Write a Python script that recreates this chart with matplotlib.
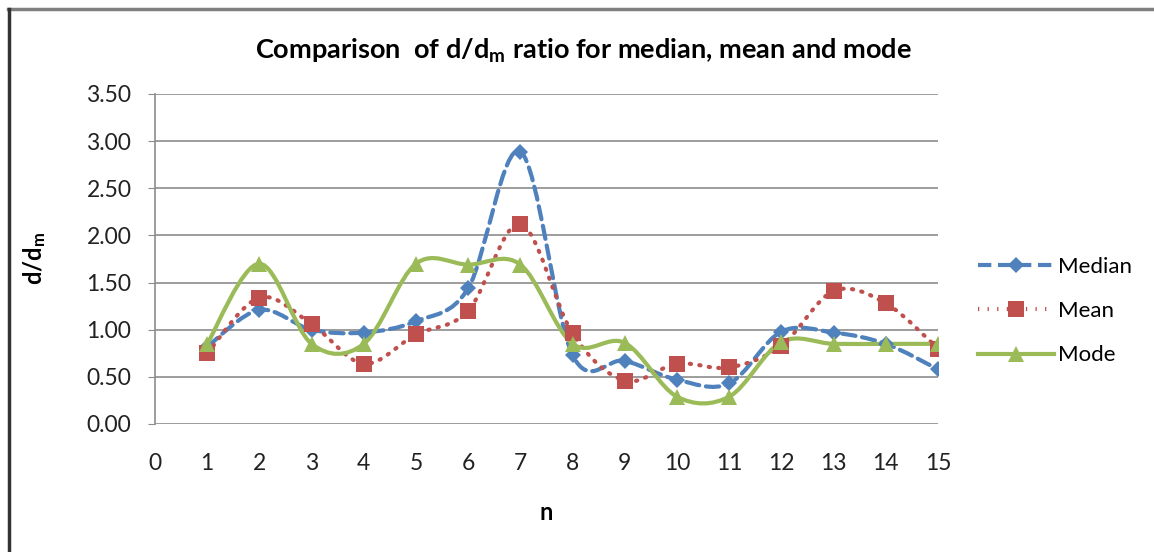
import numpy as np
import matplotlib
matplotlib.use("Agg")
import matplotlib.pyplot as plt
from matplotlib.path import Path
from matplotlib.patches import PathPatch
from matplotlib.lines import Line2D

plt.rcParams['font.family'] = ['Lato', 'DejaVu Sans']
plt.rcParams['mathtext.default'] = 'regular'

n = [1, 2, 3, 4, 5, 6, 7, 8, 9, 10, 11, 12, 13, 14, 15]
median = [0.82, 1.21, 1.00, 0.97, 1.09, 1.44, 2.89, 0.73, 0.67, 0.47, 0.43, 0.98, 0.97, 0.85, 0.58]
mean = [0.75, 1.34, 1.06, 0.64, 0.95, 1.20, 2.12, 0.96, 0.46, 0.64, 0.60, 0.83, 1.41, 1.28, 0.80]
mode = [0.85, 1.70, 0.85, 0.85, 1.70, 1.69, 1.69, 0.85, 0.86, 0.29, 0.29, 0.87, 0.85, 0.85, 0.85]

yticks = [0.0, 0.5, 1.0, 1.5, 2.0, 2.5, 3.0, 3.5]
xticks = list(range(0, 16))

BLUE = '#4F81BD'
RED = '#C0504D'
GREEN = '#9BBB59'


def smooth_path(xs, ys):
    # spreadsheet-style smoothed line: cubic bezier with catmull-rom control points
    pts = np.column_stack([xs, ys]).astype(float)
    ext = np.vstack([pts[0], pts, pts[-1]])
    verts = [pts[0]]
    codes = [Path.MOVETO]
    for i in range(len(pts) - 1):
        p0, p1, p2, p3 = ext[i], ext[i + 1], ext[i + 2], ext[i + 3]
        verts += [p1 + (p2 - p0) / 6.0, p2 - (p3 - p1) / 6.0, p2]
        codes += [Path.CURVE4] * 3
    return Path(verts, codes)


fig = plt.figure(figsize=(11.54, 5.52), dpi=100)
ax = fig.add_axes([155 / 1154, 1 - 424 / 552, (938 - 155) / 1154, (424 - 94) / 552])

series = [
    ('Median', median, BLUE, (0, (3.2, 1.6)), 'D', 8),
    ('Mean', mean, RED, (0, (0.3, 2.0)), 's', 11),
    ('Mode', mode, GREEN, '-', '^', 11),
]

handles = []
for label, vals, color, ls, mk, ms in series:
    patch = PathPatch(smooth_path(n, vals), fill=False, edgecolor=color, lw=3,
                      linestyle=ls, capstyle='round' if ls != '-' else 'butt', zorder=2)
    ax.add_patch(patch)
    ax.plot(n, vals, linestyle='none', marker=mk, markersize=ms, color=color,
            markeredgewidth=0, zorder=3)
    handles.append(Line2D([], [], color=color, lw=3, linestyle=ls, marker=mk,
                          markersize=ms, markeredgewidth=0, label=label))

ax.set_xlim(0, 15)
ax.set_ylim(0, 3.5)
ax.set_yticks(yticks)
ax.set_yticklabels(['%.2f' % v for v in yticks])
ax.set_xticks(xticks)
ax.grid(axis='y', color='#8c8c8c', lw=1.2)
ax.set_axisbelow(True)
for s in ['top', 'right', 'bottom']:
    ax.spines[s].set_visible(False)
ax.spines['left'].set_color('#8c8c8c')
ax.spines['left'].set_linewidth(1.2)
ax.tick_params(axis='y', length=5, color='#8c8c8c', labelsize=16.5, pad=12, labelcolor='#222222')
ax.tick_params(axis='x', length=0, labelsize=16.5, pad=21, labelcolor='#222222')

ax.set_xlabel('n', fontsize=17, fontweight='bold', labelpad=19)
ax.set_ylabel('d/d$_m$', fontsize=17, fontweight='bold', labelpad=28)
fig.text(583 / 1154, 1 - 51 / 552, 'Comparison  of d/d$_m$ ratio for median, mean and mode',
         ha='center', va='center', fontsize=19.5, fontweight='bold')

fig.legend(handles=handles, loc='center left', bbox_to_anchor=(958 / 1154, 1 - 311 / 552),
           frameon=False, fontsize=16, handlelength=3.4, labelspacing=1.1, handletextpad=0.2)

# chart frame
fig.add_artist(Line2D([8 / 1154, 1], [1 - 9 / 552] * 2, color='#7f7f7f', lw=2.5))
fig.add_artist(Line2D([9 / 1154] * 2, [0, 1 - 9 / 552], color='#333333', lw=2.5))

fig.savefig('out.png', dpi=100)
